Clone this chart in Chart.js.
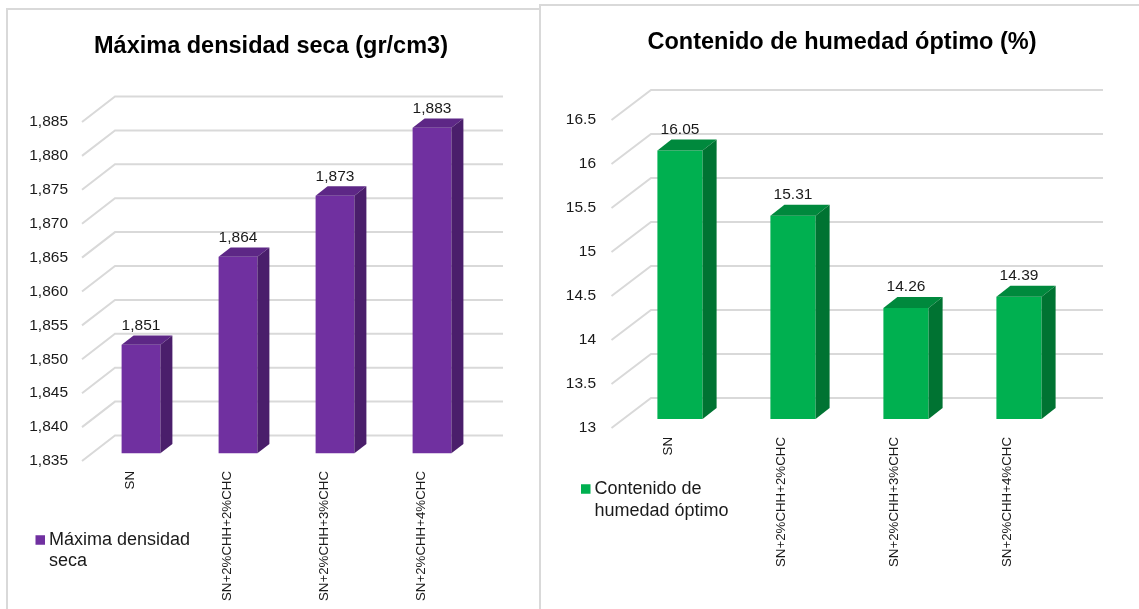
<!DOCTYPE html>
<html>
<head>
<meta charset="utf-8">
<script src="https://cdn.jsdelivr.net/npm/chart.js@4.4.1/dist/chart.umd.min.js"></script>
<style>
  html, body { margin: 0; padding: 0; background: #fff; overflow: hidden; }
  body { width: 1139px; height: 609px; position: relative; }
  .marco { position: absolute; border: 0 solid #d9d9d9; box-sizing: border-box; }
  #marcoDensidad { left: 6px; top: 8px; width: 535px; height: 640px; border-width: 2px 0 0 2px; }
  #marcoHumedad { left: 539px; top: 4px; width: 640px; height: 640px; border-width: 2px 0 0 2px; }
  canvas { position: absolute; top: 0; }
  #graficoDensidad { left: 0; }
  #graficoHumedad { left: 540px; }
</style>
</head>
<body>
<div class="marco" id="marcoDensidad"></div>
<div class="marco" id="marcoHumedad"></div>
<canvas id="graficoDensidad" width="540" height="609"></canvas>
<canvas id="graficoHumedad" width="599" height="609"></canvas>
<script>
// Datos de los ensayos Proctor
const categorias = ['SN', 'SN+2%CHH+2%CHC', 'SN+2%CHH+3%CHC', 'SN+2%CHH+4%CHC'];
const densidadSeca = [1.851, 1.864, 1.873, 1.883];
const humedadOptima = [16.05, 15.31, 14.26, 14.39];
const ticksDensidad = [1.835, 1.840, 1.845, 1.850, 1.855, 1.860, 1.865, 1.870, 1.875, 1.880, 1.885];
const ticksHumedad = [13, 13.5, 14, 14.5, 15, 15.5, 16, 16.5];

const FUENTE = "'Liberation Sans', Arial, sans-serif";
const GRIS = '#d9d9d9';

// Plugin que dibuja el aspecto 3D: pared del fondo, caras superior y lateral, etiquetas, título y leyenda
function barras3D(g) {
  return {
    id: 'barras3D',
    beforeDatasetsDraw(chart) {
      const { ctx, chartArea: a, scales: { y } } = chart;
      ctx.save();
      ctx.strokeStyle = GRIS;
      ctx.lineWidth = 2;
      y.ticks.forEach(t => {
        const py = y.getPixelForValue(t.value);
        ctx.beginPath();
        ctx.moveTo(a.left, py);
        ctx.lineTo(a.left + g.fondoX, py - g.fondoY);
        ctx.lineTo(a.right + g.fondoX, py - g.fondoY);
        ctx.stroke();
      });
      ctx.restore();
    },
    // las barras se desplazan hacia el fondo; el recorte del área acompaña al desplazamiento
    beforeDatasetDraw(chart) {
      chart.ctx.save();
      chart.ctx.translate(g.frenteX, -g.frenteY);
    },
    afterDatasetDraw(chart, args) {
      const ctx = chart.ctx;
      const dx = g.cuerpoX, dy = g.cuerpoY;
      const suelo = chart.chartArea.bottom;
      args.meta.data.forEach(bar => {
        const { x, y, base, width } = bar.getProps(['x', 'y', 'base', 'width'], true);
        const b = Math.min(base, suelo);
        const l = x - width / 2, r = x + width / 2;
        ctx.fillStyle = g.tapa;
        ctx.beginPath();
        ctx.moveTo(l, y); ctx.lineTo(l + dx, y - dy); ctx.lineTo(r + dx, y - dy); ctx.lineTo(r, y);
        ctx.closePath(); ctx.fill();
        ctx.fillStyle = g.lado;
        ctx.beginPath();
        ctx.moveTo(r, y); ctx.lineTo(r + dx, y - dy); ctx.lineTo(r + dx, b - dy); ctx.lineTo(r, b);
        ctx.closePath(); ctx.fill();
      });
      ctx.restore();
    },
    afterDatasetsDraw(chart) {
      const ctx = chart.ctx;
      const ds = chart.data.datasets[0];
      ctx.save();
      ctx.font = '15.5px ' + FUENTE;
      ctx.fillStyle = '#1a1a1a';
      ctx.textAlign = 'center';
      ctx.textBaseline = 'middle';
      chart.getDatasetMeta(0).data.forEach((bar, i) => {
        ctx.fillText(g.formato(ds.data[i]), bar.x + g.frenteX, bar.y - g.frenteY - g.cuerpoY - 10);
      });
      ctx.restore();
    },
    afterDraw(chart) {
      const ctx = chart.ctx;
      const ds = chart.data.datasets[0];
      ctx.save();
      // título
      ctx.font = 'bold 23.5px ' + FUENTE;
      ctx.fillStyle = '#000';
      ctx.textAlign = 'center';
      ctx.textBaseline = 'middle';
      ctx.fillText(g.titulo, g.tituloX, g.tituloY);
      // leyenda con ajuste de línea
      ctx.font = '18px ' + FUENTE;
      ctx.textAlign = 'left';
      const lineas = [];
      let actual = '';
      ds.label.split(' ').forEach(p => {
        const prueba = actual ? actual + ' ' + p : p;
        if (actual && ctx.measureText(prueba).width > g.leyendaAncho) { lineas.push(actual); actual = p; }
        else actual = prueba;
      });
      lineas.push(actual);
      ctx.fillStyle = ds.backgroundColor;
      ctx.fillRect(g.leyendaX, g.leyendaY - 4.75, 9.5, 9.5);
      ctx.fillStyle = '#1a1a1a';
      lineas.forEach((t, i) => ctx.fillText(t, g.leyendaX + 13.5, g.leyendaY + i * g.interlineado));
      ctx.restore();
    }
  };
}

function crearGrafico(id, etiqueta, datos, ticks, color, g) {
  return new Chart(document.getElementById(id), {
    type: 'bar',
    data: {
      labels: categorias,
      datasets: [{
        label: etiqueta,
        data: datos,
        backgroundColor: color,
        borderWidth: 0,
        categoryPercentage: 1,
        barPercentage: 0.4
      }]
    },
    options: {
      responsive: false,
      animation: false,
      devicePixelRatio: 1,
      layout: { padding: { left: 0, top: g.arriba, right: g.derecha, bottom: 0 } },
      plugins: { legend: { display: false }, title: { display: false }, tooltip: { enabled: false } },
      scales: {
        x: {
          grid: { display: false, drawTicks: false },
          border: { display: false },
          ticks: {
            autoSkip: false, minRotation: 90, maxRotation: 90, padding: g.padX,
            color: '#1a1a1a', font: { family: FUENTE, size: 13.3 }
          },
          afterFit: s => { s.height = g.altoX; }
        },
        y: {
          min: ticks[0],
          max: ticks[ticks.length - 1],
          grid: { display: false, drawTicks: false },
          border: { display: false },
          afterBuildTicks: s => { s.ticks = ticks.map(v => ({ value: v })); },
          ticks: {
            padding: g.padY, color: '#1a1a1a', font: { family: FUENTE, size: 15.5 },
            callback: v => g.formatoEje(v)
          },
          afterFit: s => { s.width = g.anchoY; }
        }
      }
    },
    plugins: [barras3D(g)]
  });
}

crearGrafico('graficoDensidad', 'Máxima densidad seca', densidadSeca, ticksDensidad, '#7030a0', {
  titulo: 'Máxima densidad seca (gr/cm3)', tituloX: 271, tituloY: 47,
  arriba: 122, derecha: 70, anchoY: 82, altoX: 148, padX: 10, padY: 14,
  fondoX: 33, fondoY: 25.5, frenteX: 10.5, frenteY: 7.7, cuerpoX: 12, cuerpoY: 9.3,
  tapa: '#5d2786', lado: '#4a1e6b',
  leyendaX: 35.5, leyendaY: 540, leyendaAncho: 150, interlineado: 21,
  formato: v => v.toFixed(3).replace('.', ','),
  formatoEje: v => Number(v).toFixed(3).replace('.', ',')
});

crearGrafico('graficoHumedad', 'Contenido de humedad óptimo', humedadOptima, ticksHumedad, '#00b050', {
  titulo: 'Contenido de humedad óptimo (%)', tituloX: 302, tituloY: 43,
  arriba: 120, derecha: 75.5, anchoY: 71.5, altoX: 181, padX: 9, padY: 15.5,
  fondoX: 39.5, fondoY: 30, frenteX: 12, frenteY: 9, cuerpoX: 14, cuerpoY: 11,
  tapa: '#00893d', lado: '#007332',
  leyendaX: 41, leyendaY: 489, leyendaAncho: 150, interlineado: 22,
  formato: v => v.toFixed(2),
  formatoEje: v => String(Number(v))
});
</script>
</body>
</html>
